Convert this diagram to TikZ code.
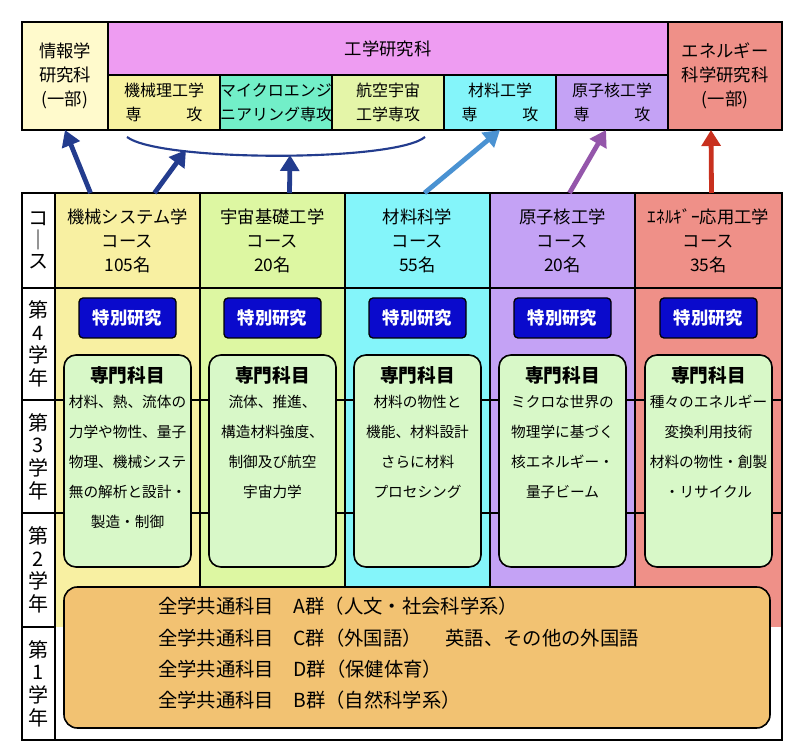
\documentclass[tikz,border=0pt]{standalone}
\usepackage{fontspec}
\setmainfont{Noto Sans CJK JP}
\usetikzlibrary{arrows.meta,calc,positioning}
\definecolor{joho}{HTML}{FFFACC}
\definecolor{kogaku}{HTML}{EE9CF2}
\definecolor{kikai}{HTML}{F7F2A0}
\definecolor{micro}{HTML}{72EFC8}
\definecolor{koku}{HTML}{E4F5A8}
\definecolor{zairyo}{HTML}{84F5FA}
\definecolor{genshi}{HTML}{C4A2F5}
\definecolor{energy}{HTML}{EF9088}
\definecolor{csys}{HTML}{F8F0A2}
\definecolor{uchu}{HTML}{DDF7A2}
\definecolor{senmon}{HTML}{D8F8C8}
\definecolor{tokubetsu}{HTML}{0A0ACC}
\definecolor{zengaku}{HTML}{F2C272}
\definecolor{darrow}{HTML}{233C8E}
\definecolor{larrow}{HTML}{4A92D2}
\definecolor{parrow}{HTML}{9456AA}
\definecolor{rarrow}{HTML}{C8301E}
\tikzset{
  cell/.style 2 args={draw, line width=1.4pt, inner sep=0pt, outer sep=0pt, align=center,
    minimum width=#1*0.75pt, minimum height=#2*0.75pt, font=\fontsize{13}{18}\selectfont},
  subcell/.style={cell={112}{55}, font=\fontsize{12}{18}\selectfont},
  tokubox/.style={fill=tokubetsu, draw=black, line width=1pt, rounded corners=3pt, text=white,
    minimum width=97*0.75pt, minimum height=40*0.75pt, font=\fontsize{13}{15}\selectfont\bfseries},
  senbox/.style={fill=senmon, draw=black, line width=1.2pt, rounded corners=9pt,
    minimum width=127*0.75pt, minimum height=212*0.75pt},
  sentext/.style={align=center, font=\fontsize{11}{22.5}\selectfont, inner sep=0pt},
  uparrow/.style={line width=3.6pt, -{Triangle[length=12pt,width=14pt]}},
}
\begin{document}
\begin{tikzpicture}[x=0.75pt, y=-0.75pt]
\useasboundingbox (0,0) rectangle (800,752);
% graduate schools
\node[cell={86}{108}, fill=joho] (joho) at (65,76) {情報学\\研究科\\(一部)};
\node[cell={560}{53}, fill=kogaku] (kogaku) at (388,48.5) {工学研究科};
\node[subcell, fill=kikai] (skikai) at (164,102.5) {機械理工学\\専\hspace{2.8em}攻};
\node[subcell, fill=micro] (smicro) at (276,102.5) {マイクロエンジ\\ニアリング専攻};
\node[subcell, fill=koku] (skoku) at (388,102.5) {航空宇宙\\工学専攻};
\node[subcell, fill=zairyo] (szairyo) at (500,102.5) {材料工学\\専\hspace{2.8em}攻};
\node[subcell, fill=genshi] (sgenshi) at (612,102.5) {原子核工学\\専\hspace{2.8em}攻};
\node[cell={114}{108}, fill=energy] (energy) at (725,76) {エネルギー\\科学研究科\\(一部)};
% course columns
\foreach \x/\c in {127.5/csys, 272.5/uchu, 417.5/zairyo, 562.5/genshi, 708.5/energy}
  \fill[\c] (\x-72.5,288) rectangle (\x+72.5,627);
\node[cell={145}{95}, fill=csys] (c1) at (127.5,240.5) {機械システム学\\コース\\105名};
\node[cell={145}{95}, fill=uchu] (c2) at (272.5,240.5) {宇宙基礎工学\\コース\\20名};
\node[cell={145}{95}, fill=zairyo] (c3) at (417.5,240.5) {材料科学\\コース\\55名};
\node[cell={145}{95}, fill=genshi] (c4) at (562.5,240.5) {原子核工学\\コース\\20名};
\node[cell={147}{95}, fill=energy] (c5) at (708.5,240.5) {ｴﾈﾙｷﾞｰ応用工学\\コース\\35名};
% year rows
\node[cell={33}{95}, fill=white, font=\fontsize{15}{16}\selectfont] (rc) at (38.5,240.5) {コ\\｜\\ス};
\node[cell={33}{112}, font=\fontsize{15}{17}\selectfont] (r4) at (38.5,344) {第\\4\\学\\年};
\node[cell={33}{113}, font=\fontsize{15}{17}\selectfont] (r3) at (38.5,456.5) {第\\3\\学\\年};
\node[cell={33}{114}, font=\fontsize{15}{17}\selectfont] (r2) at (38.5,570) {第\\2\\学\\年};
\node[cell={33}{113}, font=\fontsize{15}{17}\selectfont] (r1) at (38.5,683.5) {第\\1\\学\\年};
\foreach \y in {400,513}
  \draw[line width=1.4pt] (55,\y) -- (782,\y);
\foreach \x in {200,345,490,635}
  \draw[line width=1.4pt] (\x,288) -- (\x,627);
\draw[line width=1.4pt] (r1.north east) -- (r1.south east) -- (782,740) -- (782,288);
% subjects
\foreach \n/\x in {1/127.5, 2/272.5, 3/417.5, 4/562.5, 5/708.5} {
  \node[tokubox] (toku\n) at (\x,318) {特別研究};
  \node[senbox] (sen\n) at (\x,461) {};
  \node[sentext, below=9pt of sen\n.north, font=\fontsize{14}{16}\selectfont\bfseries] (sent\n) {専門科目};
}
\node[sentext, below=8pt of sent1] {材料、熱、流体の\\力学や物性、量子\\物理、機械システ\\無の解析と設計・\\製造・制御};
\node[sentext, below=8pt of sent2] {流体、推進、\\構造材料強度、\\制御及び航空\\宇宙力学};
\node[sentext, below=8pt of sent3] {材料の物性と\\機能、材料設計\\さらに材料\\プロセシング};
\node[sentext, below=8pt of sent4] {ミクロな世界の\\物理学に基づく\\核エネルギー・\\量子ビーム};
\node[sentext, below=8pt of sent5] {種々のエネルギー\\変換利用技術\\材料の物性・創製\\・リサイクル};
% common subjects
\node[fill=zengaku, draw=black, line width=1.2pt, rounded corners=10pt, minimum width=706*0.75pt,
  minimum height=141*0.75pt] (zen) at (417,657.5) {};
\node[anchor=north west, align=left, inner sep=0pt, font=\fontsize{14.5}{23.5}\selectfont] (zent) at (158,597)
  {全学共通科目　A群（人文・社会科学系）\\全学共通科目　C群（外国語）　 英語、その他の外国語\\全学共通科目　D群（保健体育）\\全学共通科目　B群（自然科学系）};
% arrows
\coordinate (arcL) at (127,137);
\coordinate (arcR) at (425,137);
\draw[darrow, line width=1.6pt] (arcL) .. controls (160,162) and (395,162) .. (arcR);
\draw[uparrow, darrow] ($(c1.north)+(-37,0)$) -- (joho.south);
\draw[uparrow, darrow] ($(c1.north)+(27,0)$) -- ($(skikai.south)+(22,20)$);
\draw[uparrow, darrow] ($(c2.north)+(17,0)$) -- ($(smicro.south)+(14,25)$);
\draw[uparrow, larrow] ($(c3.north)+(7,0)$) -- (szairyo.south);
\draw[uparrow, parrow] ($(c4.north)+(7,0)$) -- ($(sgenshi.south)+(-6,0)$);
\draw[uparrow, rarrow] ($(c5.north)+(3,0)$) -- ($(energy.south)+(-14,0)$);
\end{tikzpicture}
\end{document}
